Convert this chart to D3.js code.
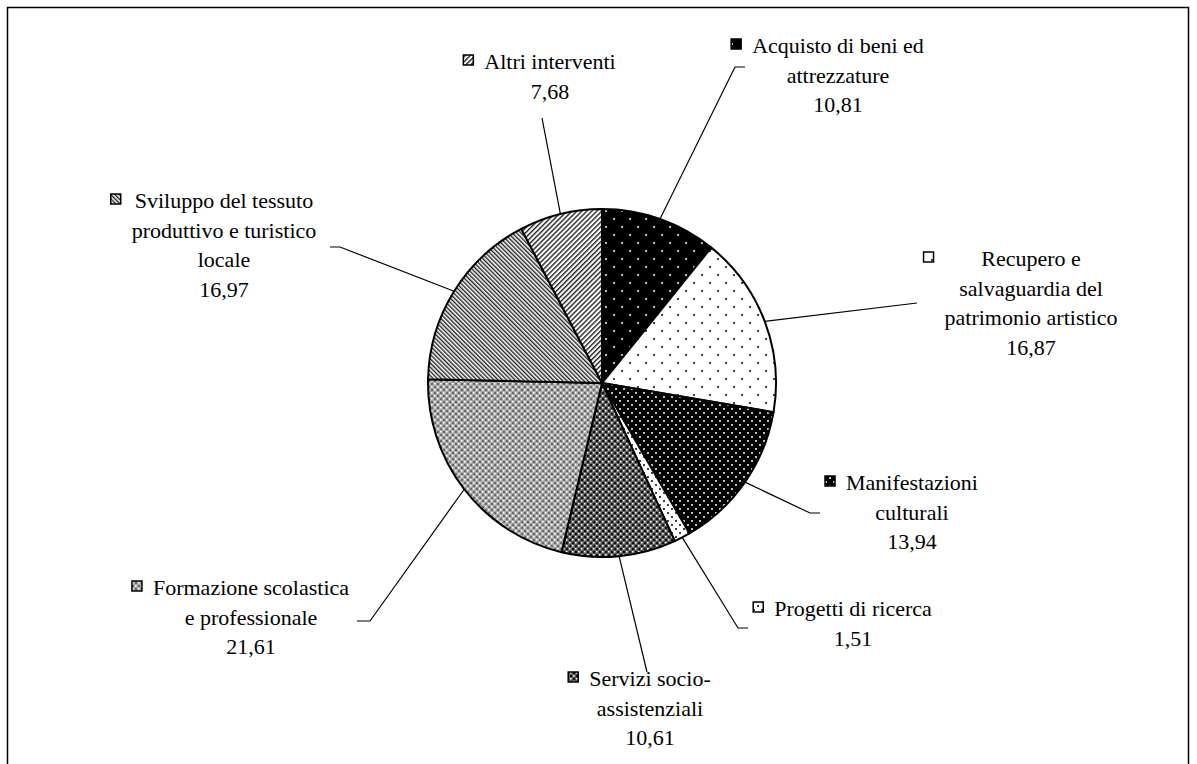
<!DOCTYPE html>
<html>
<head>
<meta charset="utf-8">
<script src="https://cdn.jsdelivr.net/npm/d3@7"></script>
<style>
  body { margin: 0; background: #fff; }
  svg { display: block; }
  text { font-family: "Liberation Serif", "Times New Roman", serif; font-size: 22px; fill: #000; }
</style>
</head>
<body>
<svg id="chart" width="1197" height="764"></svg>
<script>
// Quote percentuali per tipologia di intervento
const categories = [
  "Acquisto di beni ed attrezzature",
  "Recupero e salvaguardia del patrimonio artistico",
  "Manifestazioni culturali",
  "Progetti di ricerca",
  "Servizi socio-assistenziali",
  "Formazione scolastica e professionale",
  "Sviluppo del tessuto produttivo e turistico locale",
  "Altri interventi"
];
const values = [10.81, 16.87, 13.94, 1.51, 10.61, 21.61, 16.97, 7.68];
const labelLines = [
  ["Acquisto di beni ed", "attrezzature"],
  ["Recupero e", "salvaguardia del", "patrimonio artistico"],
  ["Manifestazioni", "culturali"],
  ["Progetti di ricerca"],
  ["Servizi socio-", "assistenziali"],
  ["Formazione scolastica", "e professionale"],
  ["Sviluppo del tessuto", "produttivo e turistico", "locale"],
  ["Altri interventi"]
];

// Label block placement: centre x, first baseline, leader points near the label
const labelLayout = [
  { cx: 838,  y: 53,  leader: [[735, 67], [745, 67]] },
  { cx: 1031, y: 266, leader: [[917, 303]] },
  { cx: 912,  y: 490, leader: [[810, 513], [820, 513]] },
  { cx: 853,  y: 616, leader: [[738, 628], [748, 628]] },
  { cx: 650,  y: 686, leader: [[647, 672]] },
  { cx: 251,  y: 595, leader: [[370, 621], [357, 621]] },
  { cx: 224,  y: 208, leader: [[340, 247], [330, 247]] },
  { cx: 550,  y: 69,  leader: [[542, 118]] }
];

const cx = 602, cy = 383, radius = 174, lineStep = 29.5;

const itLocale = d3.formatLocale({ decimal: ",", thousands: ".", grouping: [3], currency: ["€", ""] });
const fmt = itLocale.format(".2f");

const svg = d3.select("#chart");

// Frame around the chart area
svg.append("rect")
  .attr("x", 7.5).attr("y", 7.5)
  .attr("width", 1181).attr("height", 770)
  .attr("fill", "none").attr("stroke", "#000").attr("stroke-width", 1.5);

// Monochrome fill patterns
const defs = svg.append("defs");
function dotPattern(id, size, bg, fg, r, pts) {
  const p = defs.append("pattern").attr("id", id)
    .attr("patternUnits", "userSpaceOnUse").attr("width", size).attr("height", size);
  p.append("rect").attr("width", size).attr("height", size).attr("fill", bg);
  pts.forEach(([x, y]) => p.append("circle").attr("cx", x).attr("cy", y).attr("r", r).attr("fill", fg));
}
function stripePattern(id, pitch, angle, w, color) {
  const p = defs.append("pattern").attr("id", id)
    .attr("patternUnits", "userSpaceOnUse").attr("width", pitch).attr("height", pitch)
    .attr("patternTransform", `rotate(${angle})`);
  p.append("rect").attr("width", pitch).attr("height", pitch).attr("fill", "#fff");
  p.append("rect").attr("x", 0).attr("width", w).attr("height", pitch).attr("fill", color);
}
function trellisPattern(id, bg, light, dark) {
  const p = defs.append("pattern").attr("id", id)
    .attr("patternUnits", "userSpaceOnUse").attr("width", 6).attr("height", 6);
  p.append("rect").attr("width", 6).attr("height", 6).attr("fill", bg);
  [[0, 0], [3, 3]].forEach(([x, y]) => p.append("rect").attr("x", x).attr("y", y).attr("width", 1.5).attr("height", 1.5).attr("fill", light));
  [[0, 3], [3, 0]].forEach(([x, y]) => p.append("rect").attr("x", x).attr("y", y).attr("width", 2).attr("height", 2).attr("fill", dark));
}
dotPattern("fill0", 16, "#000", "#fff", 1.0, [[4, 4], [12, 12]]);
dotPattern("fill1", 16, "#fff", "#000", 1.0, [[4, 4], [12, 12]]);
dotPattern("fill2", 8, "#000", "#fff", 1.0, [[2, 2], [6, 6]]);
dotPattern("fill3", 8, "#fff", "#000", 1.0, [[2, 2], [6, 6]]);
trellisPattern("fill4", "#5c5c5c", "#ffffff", "#111111");
trellisPattern("fill5", "#a9a9a9", "#ffffff", "#6a6a6a");
stripePattern("fill6", 3, -45, 1.4, "#222");
stripePattern("fill7", 3.5, 45, 1.4, "#222");

// Pie
const pie = d3.pie().sort(null).value(d => d);
const arcs = pie(values);
const arc = d3.arc().innerRadius(0).outerRadius(radius);

const g = svg.append("g").attr("transform", `translate(${cx},${cy})`);
g.selectAll("path.slice").data(arcs).join("path")
  .attr("class", "slice")
  .attr("d", arc)
  .attr("fill", (d, i) => `url(#fill${i})`)
  .attr("stroke", "#000").attr("stroke-width", 2).attr("stroke-linejoin", "round");

// Leader lines from the slice mid-angle on the rim to each label
const line = d3.line();
arcs.forEach((d, i) => {
  const a = (d.startAngle + d.endAngle) / 2;
  const rim = [cx + radius * Math.sin(a), cy - radius * Math.cos(a)];
  svg.append("path")
    .attr("d", line([rim, ...labelLayout[i].leader]))
    .attr("fill", "none").attr("stroke", "#000").attr("stroke-width", 1.2);
});

// Labels: wrapped category text, value, and legend key
categories.forEach((c, i) => {
  const L = labelLayout[i];
  const lines = [...labelLines[i], fmt(values[i])];
  const tg = svg.append("g");
  const texts = lines.map((t, k) =>
    tg.append("text").attr("x", L.cx).attr("y", L.y + k * lineStep)
      .attr("text-anchor", "middle").text(t));
  const left = d3.min(texts, t => L.cx - t.node().getComputedTextLength() / 2);
  tg.append("rect")
    .attr("x", left - 21).attr("y", L.y - 14)
    .attr("width", 10).attr("height", 10)
    .attr("fill", `url(#fill${i})`)
    .attr("stroke", "#000").attr("stroke-width", 1.5);
});
</script>
</body>
</html>
